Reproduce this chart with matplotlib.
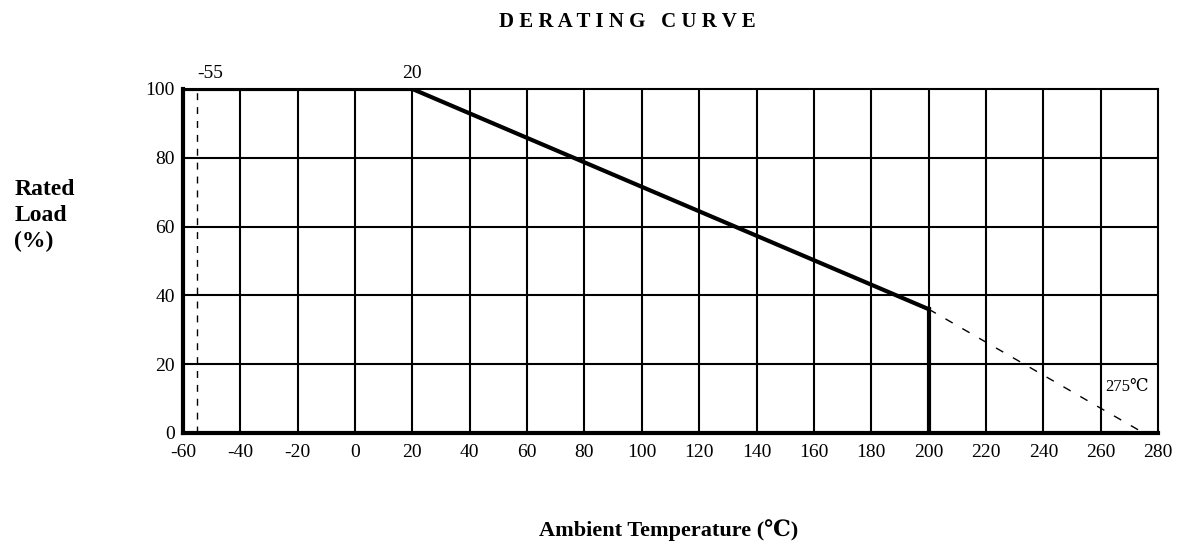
import numpy as np
import matplotlib.pyplot as plt

plt.rcParams['font.family'] = ['Liberation Serif', 'DejaVu Serif']
plt.rcParams['axes.unicode_minus'] = False

# curve data
flat_t = [-60, 20]
flat_load = [100, 100]
slope_t = [20, 200]
slope_load = [100, 36]
ext_t = [200, 275]
ext_load = [36, 0]
min_temp = -55
x_ticks = list(range(-60, 281, 20))
y_ticks = list(range(0, 101, 20))

fig = plt.figure(figsize=(11.83, 5.46), dpi=100)
ax = fig.add_axes([0.1547, 0.207, 0.8242, 0.630])

ax.set_xlim(-60, 280)
ax.set_ylim(0, 100)

# grid
for t in x_ticks[1:-1]:
    ax.plot([t, t], [0, 100], color='black', lw=1.5, zorder=1)
for v in y_ticks[1:-1]:
    ax.plot([-60, 280], [v, v], color='black', lw=1.5, zorder=1)

# curve
ax.plot(flat_t, flat_load, color='black', lw=3, zorder=3)
ax.plot(slope_t, slope_load, color='black', lw=3, zorder=3)
ax.plot([200, 200], [0, slope_load[-1]], color='black', lw=3, zorder=3)
ax.plot(ext_t, ext_load, color='black', lw=1, ls=(0, (6, 8)), zorder=3)
ax.plot([min_temp, min_temp], [0, 100], color='black', lw=1, ls=(0, (5, 5)), zorder=3)

for side in ['top', 'right']:
    ax.spines[side].set_linewidth(1.5)
for side in ['left', 'bottom']:
    ax.spines[side].set_linewidth(3)

ax.set_xticks(x_ticks)
ax.set_yticks(y_ticks)
ax.tick_params(length=0, labelsize=14)
ax.tick_params(axis='x', pad=8)
ax.tick_params(axis='y', pad=6)

ax.text(min_temp, 102, '-55', fontsize=14, ha='left', va='bottom')
ax.text(20, 102, '20', fontsize=14, ha='center', va='bottom')
ax.text(261.5, 11, '275℃', fontsize=12, ha='left', va='bottom')

fig.text(0.53, 0.96, 'D E R A T I N G   C U R V E', fontsize=15, fontweight='bold', ha='center', va='center')
fig.text(0.012, 0.605, 'Rated\nLoad\n(%)', fontsize=17, fontweight='bold', ha='left', va='center', linespacing=1.3)
fig.text(0.565, 0.03, 'Ambient Temperature (℃)', fontsize=16, fontweight='bold', ha='center', va='center')

fig.savefig('out.png', dpi=100)
